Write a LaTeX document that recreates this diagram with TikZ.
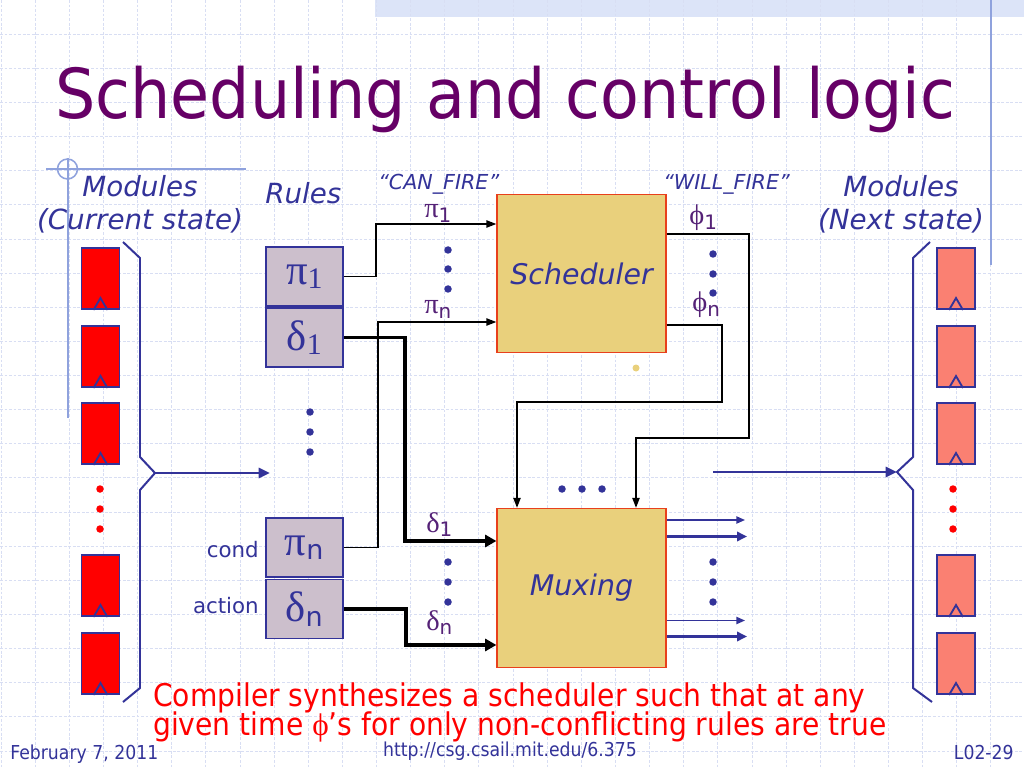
\documentclass[tikz,border=0pt]{standalone}
\usepackage{fontspec}
\setmainfont{DejaVu Sans}
\newfontfamily\tah[FakeStretch=0.9]{DejaVu Sans}
\newfontfamily\ttlf[FakeStretch=0.92]{DejaVu Sans}
\newfontfamily\vrd{DejaVu Sans}
\newfontfamily\sym{Liberation Serif}
\usetikzlibrary{arrows.meta}
\definecolor{navy}{HTML}{333399}
\definecolor{ttl}{HTML}{660066}
\definecolor{gridc}{HTML}{D8DEF3}
\definecolor{deco}{HTML}{8FA2DD}
\definecolor{band}{HTML}{DCE4F8}
\definecolor{rulefill}{HTML}{CCBFCC}
\definecolor{boxfill}{HTML}{E9D07C}
\definecolor{boxline}{HTML}{E8401C}
\definecolor{modnext}{HTML}{FA8072}
\definecolor{lblc}{HTML}{552277}
\def\px{0.703125pt}
\newcommand\gsub[2]{{\sym\fontsize{20}{20}\selectfont #1}\raisebox{-3pt}{\vrd\fontsize{14}{14}\selectfont #2}}
\newcommand\bsubs[2]{{\sym\fontsize{30}{30}\selectfont #1}\raisebox{-3pt}{\sym\fontsize{21}{21}\selectfont #2}}
\newcommand\bsubn[2]{{\sym\fontsize{30}{30}\selectfont #1}\raisebox{-3pt}{\vrd\fontsize{19}{19}\selectfont #2}}
\tikzset{
  gridline/.style={gridc, line width=0.6pt, dash pattern=on 2pt off 1.2pt},
  modbox/.style={draw=navy, line width=1.4pt, minimum width=38*\px, minimum height=61*\px, inner sep=0, anchor=north},
  rulebox/.style={draw=navy, line width=1.4pt, fill=rulefill, minimum width=77*\px, minimum height=59*\px, inner sep=0, text=navy},
  bigbox/.style={draw=boxline, line width=0.8pt, fill=boxfill, minimum width=169*\px, minimum height=158*\px, inner sep=0, font=\vrd\itshape\fontsize{20}{24}\selectfont, text=navy},
  thinarr/.style={draw=black, line width=1.2pt, -{Triangle[length=7pt,width=5pt]}},
  thickarr/.style={draw=black, line width=2.8pt, -{Triangle[length=8pt,width=8.5pt]}},
  navyarr/.style={draw=navy, line width=2.1pt, -{Triangle[length=8pt,width=7pt]}},
  outthin/.style={draw=navy, line width=1.1pt, -{Triangle[length=6pt,width=5pt]}},
  outthick/.style={draw=navy, line width=2.2pt, -{Triangle[length=7pt,width=6.5pt]}},
  brace/.style={draw=navy, line width=1.4pt},
  dotn/.style={circle, fill=navy, inner sep=0, minimum size=7.5*\px},
  dotr/.style={circle, fill=red, inner sep=0, minimum size=7.5*\px},
  lbl/.style={inner sep=0, anchor=base west, text=lblc},
  lab/.style={inner sep=0, text=navy, font=\vrd\itshape\fontsize{19.5}{22}\selectfont},
  deco/.style={draw=deco, line width=1.1pt}
}
\begin{document}
\begin{tikzpicture}[x=\px,y=-\px]
\useasboundingbox (0,0) rectangle (1024,768);
\fill[white] (0,0) rectangle (1024,768);
% top band
\fill[band] (375,0) rectangle (1024,17);
% grid
\foreach \i in {0,...,30} \draw[gridline] ({\i*34.1333+1},0) -- ({\i*34.1333+1},768);
\foreach \j in {1,...,22} \draw[gridline] (0,{\j*34.1333}) -- (1024,{\j*34.1333});
% decorations
\draw[deco] (991,0) -- (991,265);
\draw[deco] (46,169) -- (246,169);
\draw[deco] (68,158) -- (68,418);
\draw[deco] (67.5,169) circle[radius=10*\px];
% title
\node[anchor=base west, inner sep=0, text=ttl, font=\ttlf\fontsize{48.5}{50}\selectfont] (title) at (55,119) {Scheduling and control logic};
% headings
\node[lab, anchor=base] (ml1) at (140,197) {Modules};
\node[lab, anchor=base] (ml2) at (140,230) {(Current state)};
\node[lab, anchor=base west] (rules) at (265,204) {Rules};
\node[lab, anchor=base west, font=\vrd\itshape\fontsize{14.5}{16}\selectfont] (canf) at (378,190) {“CAN\_FIRE”};
\node[lab, anchor=base west, font=\vrd\itshape\fontsize{14.5}{16}\selectfont] (willf) at (663,190) {“WILL\_FIRE”};
\node[lab, anchor=base] (mr1) at (901,197) {Modules};
\node[lab, anchor=base] (mr2) at (901,230) {(Next state)};
% module registers
\foreach \t/\n in {247/1,325/2,402/3,554/4,632/5}{
  \node[modbox, fill=red] (lm\n) at (100.5,\t) {};
  \draw[navy, line width=1.3pt] ([xshift=-4.9pt]lm\n.south) -- ([yshift=8.4pt]lm\n.south) -- ([xshift=4.9pt]lm\n.south);
  \node[modbox, fill=modnext] (rm\n) at (956,\t) {};
  \draw[navy, line width=1.3pt] ([xshift=-4.9pt]rm\n.south) -- ([yshift=8.4pt]rm\n.south) -- ([xshift=4.9pt]rm\n.south);
}
\foreach \y in {489,509,529}{
  \node[dotr] at (100,\y) {};
  \node[dotr] at (953,\y) {};
}
% braces
\draw[brace] (123,242) -- (140,258) -- (140,457) -- (155,473) -- (140,490) -- (140,688) -- (123,702);
\draw[brace] (930,242) -- (913,258) -- (913,457) -- (897,472) -- (913,490) -- (913,688) -- (932,702);
\coordinate (lbt) at (155,473);
\coordinate (rin) at (270,473);
\draw[navyarr] (lbt) -- (rin);
\coordinate (mout) at (713,472);
\coordinate (rbt) at (897,472);
\draw[navyarr] (mout) -- (rbt);
% rules
\node[rulebox] (p1) at (304.25,276.5) {\bsubs{π}{1}};
\node[rulebox] (d1) at (304.25,337.5) {\bsubs{δ}{1}};
\node[rulebox] (pn) at (304.25,547.5) {\bsubn{π}{n}};
\node[rulebox] (dn) at (304.25,609) {\bsubn{δ}{n}};
\node[inner sep=0, anchor=base east, text=navy, font=\vrd\fontsize{15}{16}\selectfont] (cond) at (259,557) {cond};
\node[inner sep=0, anchor=base east, text=navy, font=\vrd\fontsize{15}{16}\selectfont] (action) at (259,613) {action};
\foreach \y in {412,432,452} \node[dotn] at (310,\y) {};
% blocks
\node[bigbox] (sched) at (581.5,273.5) {Scheduler};
\node[bigbox, minimum height=159*\px] (mux) at (581.5,588) {Muxing};
% connectors into scheduler
\draw[thinarr] (p1.east) -- (376,276.5) |- (sched.west |- 0,224);
\draw[thinarr] (pn.east) -- (378,547.5) |- (sched.west |- 0,322);
% connectors into mux
\draw[thickarr] (d1.east) -- (405,337.5) |- (mux.west |- 0,541);
\draw[thickarr] (dn.east) -- (406,609) |- (mux.west |- 0,645);
% scheduler to mux
\draw[thinarr] (sched.east |- 0,234) -- (749,234) -- (749,438) -- (636,438) -- (mux.north -| 636,0);
\draw[thinarr] (sched.east |- 0,325) -- (722,325) -- (722,402) -- (517,402) -- (mux.north -| 517,0);
% mux outputs
\coordinate (o1) at (745,520);
\coordinate (o2) at (747,536.5);
\coordinate (o3) at (745,620.5);
\coordinate (o4) at (747,636.5);
\draw[outthin] (mux.east |- 0,520) -- (o1);
\draw[outthick] (mux.east |- 0,536.5) -- (o2);
\draw[outthin] (mux.east |- 0,620.5) -- (o3);
\draw[outthick] (mux.east |- 0,636.5) -- (o4);
% labels
\node[lbl] (lp1) at (424,218) {\gsub{π}{1}};
\node[lbl] (lpn) at (424,314) {\gsub{π}{n}};
\node[lbl] (lf1) at (689,225) {\gsub{ϕ}{1}};
\node[lbl] (lfn) at (692,312) {\gsub{ϕ}{n}};
\node[lbl] (ld1) at (426,532) {\gsub{δ}{1}};
\node[lbl] (ldn) at (426,630) {\gsub{δ}{n}};
% dots
\foreach \y in {250,269,289} \node[dotn] at (448,\y) {};
\foreach \y in {562,582,602} \node[dotn] at (448,\y) {};
\foreach \y in {254,274,293} \node[dotn] at (713,\y) {};
\foreach \y in {562,582,602} \node[dotn] at (713,\y) {};
\foreach \x in {562,582,602} \node[dotn] at (\x,489) {};
\node[circle, fill=boxfill, inner sep=0, minimum size=7*\px] (ydot) at (636,368) {};
% bottom text
\node[anchor=base west, inner sep=0, text=red, font=\tah\fontsize{22}{24}\selectfont] (c1) at (153,706) {Compiler synthesizes a scheduler such that at any};
\node[anchor=base west, inner sep=0, text=red, font=\tah\fontsize{22}{24}\selectfont] (c2) at (153,735) {given time {\sym ϕ}’s for only non-conflicting rules are true};
% footer
\node[anchor=base west, inner sep=0, text=navy, font=\tah\fontsize{13.5}{15}\selectfont] (date) at (10,759) {February 7, 2011};
\node[anchor=base, inner sep=0, text=navy, font=\tah\fontsize{13.5}{15}\selectfont] (url) at (510,756) {http://csg.csail.mit.edu/6.375};
\node[anchor=base east, inner sep=0, text=navy, font=\tah\fontsize{13.5}{15}\selectfont] (pg) at (1014,759) {L02-29};
\end{tikzpicture}
\end{document}
